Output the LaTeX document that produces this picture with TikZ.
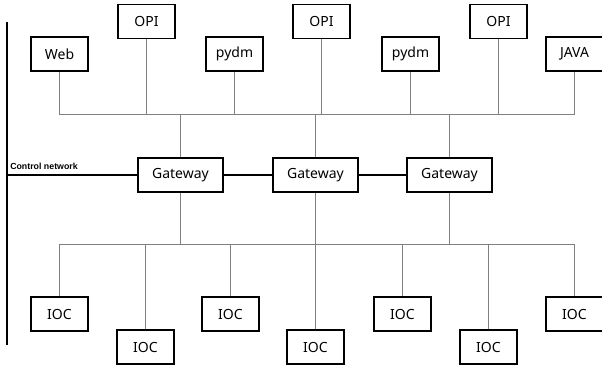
\documentclass[tikz,border=0pt]{standalone}
\usepackage{fontspec}
\setmainfont{Noto Sans}
\newfontfamily\cnfont{Liberation Sans}
\begin{document}
\begin{tikzpicture}[x=0.75pt,y=-0.75pt,
  box/.style={draw=black,line width=1.2pt,fill=white,minimum width=42.75pt,minimum height=25.5pt,inner sep=0pt,font=\fontsize{10.5}{12}\selectfont},
  gwbox/.style={box,minimum width=63.75pt},
  bus/.style={draw=black!50,line width=0.9pt},
  net/.style={draw=black,line width=1.3pt}]
\useasboundingbox (0,0) rectangle (602,367);
% top clients
\node[box] (web) at (59.5,54) {Web};
\node[box] (opi1) at (146.5,21.5) {OPI};
\node[box] (pydm1) at (234.5,54) {pydm};
\node[box] (opi2) at (321.5,21.5) {OPI};
\node[box] (pydm2) at (410.5,54) {pydm};
\node[box] (opi3) at (498.5,21.5) {OPI};
\node[box] (java) at (574.5,54) {JAVA};
% gateways
\node[gwbox] (gw1) at (180.5,175) {Gateway};
\node[gwbox] (gw2) at (315.5,175) {Gateway};
\node[gwbox] (gw3) at (449.5,175) {Gateway};
% IOCs
\node[box] (ioc1) at (59.5,314) {IOC};
\node[box] (ioc2) at (145.5,347) {IOC};
\node[box] (ioc3) at (230.5,314) {IOC};
\node[box] (ioc4) at (315.5,347) {IOC};
\node[box] (ioc5) at (402.5,314) {IOC};
\node[box] (ioc6) at (488.5,347) {IOC};
\node[box] (ioc7) at (574.5,314) {IOC};
% bus levels
\coordinate (tb) at (0,114.5);
\coordinate (bb) at (0,244.5);
% left control network line
\coordinate (cnTop) at (7,22);
\coordinate (cnBot) at (7,345);
\coordinate (cnMid) at (7,175);
\node[anchor=south west,inner sep=0pt,font=\cnfont\fontsize{6.6}{7}\selectfont\bfseries] (cnlabel) at (10,170) {Control network};
% top bus
\draw[bus] (web.south) -- (web.south |- tb) -- (java.south |- tb) -- (java.south);
\foreach \n in {opi1,pydm1,opi2,pydm2,opi3}
  \draw[bus] (\n.south) -- (\n.south |- tb);
\foreach \n in {gw1,gw2,gw3}
  \draw[bus] (\n.north) -- (\n.north |- tb);
% bottom bus
\draw[bus] (ioc1.north) -- (ioc1.north |- bb) -- (ioc7.north |- bb) -- (ioc7.north);
\foreach \n in {ioc2,ioc3,ioc4,ioc5,ioc6}
  \draw[bus] (\n.north) -- (\n.north |- bb);
\foreach \n in {gw1,gw2,gw3}
  \draw[bus] (\n.south) -- (\n.south |- bb);
% control network
\draw[net] (cnTop) -- (cnBot);
\draw[net] (cnMid) -- (gw1.west);
\draw[net] (gw1.east) -- (gw2.west);
\draw[net] (gw2.east) -- (gw3.west);
\end{tikzpicture}
\end{document}
